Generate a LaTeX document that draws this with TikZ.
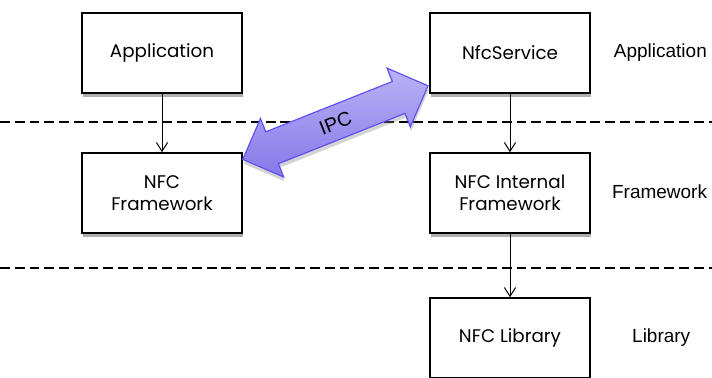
\documentclass[tikz,border=0pt]{standalone}
\usepackage{fontspec}
\setmainfont{Liberation Sans}
\newfontfamily\boxfont{Poppins}
\usetikzlibrary{arrows.meta,calc,positioning,shapes.arrows,shadows}
\definecolor{IpcLight}{RGB}{186,178,246}
\definecolor{IpcDark}{RGB}{134,120,232}
\definecolor{IpcEdge}{RGB}{92,78,245}
\tikzset{
  layer box/.style={draw,line width=1.1pt,fill=white,minimum width=4cm,minimum height=2cm,
    align=center,font=\boxfont\fontsize{13}{15.6}\selectfont,
    drop shadow={shadow xshift=0.5pt,shadow yshift=-3pt,opacity=0.45,fill=black!70}},
  layer label/.style={font=\fontsize{13.5}{16}\selectfont},
  layer line/.style={line width=0.8pt,dash pattern=on 7pt off 3.5pt},
  ipc arrow/.style={double arrow,draw=IpcEdge,line width=0.8pt,top color=IpcLight,bottom color=IpcDark,
    double arrow head extend=0.36cm,inner xsep=0pt,inner ysep=0.24cm,
    text height=0.35cm,text depth=0cm,
    font=\fontsize{14}{16}\selectfont,
    drop shadow={shadow xshift=0.5pt,shadow yshift=-3pt,opacity=0.35}}
}

\begin{document}
\begin{tikzpicture}[>={Straight Barb[length=2.2mm,width=2.8mm]}]
\useasboundingbox (0,0) rectangle (17.8,-9.45);
% layer borders
\draw[layer line] (0,-3.05) -- (17.8,-3.05);
\draw[layer line] (0,-6.7) -- (17.8,-6.7);
% boxes
\node[layer box] (app) at (4.05,-1.325) {Application};
\node[layer box] (nfcfw) at (4.05,-4.825) {NFC\\Framework};
\node[layer box] (svc) at (12.75,-1.325) {NfcService};
\node[layer box] (intfw) at (12.75,-4.825) {NFC Internal\\Framework};
\node[layer box] (lib) at (12.75,-8.45) {NFC Library};
% layer names
\node[layer label] (lapp) at (16.51,-1.325) {Application};
\node[layer label] (lfw) at (16.49,-4.8) {Framework};
\node[layer label] (llib) at (16.53,-8.43) {Library};
% calls
\draw[->,line width=0.7pt] (app) -- (nfcfw);
\draw[->,line width=0.7pt] (svc) -- (intfw);
\draw[->,line width=0.7pt] (intfw) -- (lib);
% IPC
\coordinate (ipcl) at ($(nfcfw.north east)+(0,-0.18)$);
\coordinate (ipcr) at ($(svc.south west)+(-0.03,0.2)$);
\path let \p1=($(ipcr)-(ipcl)$), \n1={atan2(\y1,\x1)}, \n2={veclen(\x1,\y1)} in
  node[ipc arrow,rotate=\n1,minimum height=\n2] (ipc) at ($(ipcl)!0.5!(ipcr)$) {IPC};
\end{tikzpicture}
\end{document}
